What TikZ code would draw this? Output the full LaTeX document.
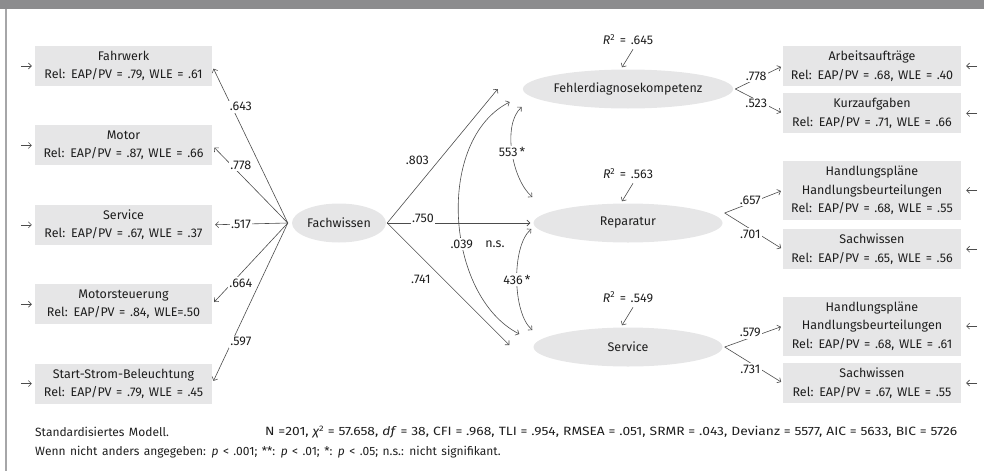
\documentclass[tikz,border=0pt]{standalone}
\usepackage{fontspec}
\setmainfont[WordSpace=1.4]{Fira Sans}
\newfontfamily\fitfont[FakeStretch=1.15, WordSpace=1.4]{Fira Sans}
\usetikzlibrary{calc}
\usetikzlibrary{shapes}
\usetikzlibrary{positioning}
\usetikzlibrary{arrows.meta}

\definecolor{boxgray}{HTML}{E6E6E7}
\definecolor{linegray}{HTML}{4C4C4C}
\definecolor{bargray}{HTML}{8C8C8E}
\definecolor{framegray}{HTML}{A6A6A8}
\definecolor{textgray}{HTML}{1E1E1E}

\begin{document}
\begin{tikzpicture}[x=1pt, y=-1pt, node distance=39pt,
        every node/.style={text=textgray, font=\fontsize{12.5}{18.5}\selectfont},
        indicator/.style={fill=boxgray, minimum width=177pt, minimum height=40pt, inner sep=0pt, align=center},
        latent/.style={ellipse, fill=boxgray, inner sep=0pt, minimum height=39pt, minimum width=189pt},
        coef/.style={fill=white, inner sep=1.5pt},
        effect/.style={draw=linegray, line width=0.6pt, -{Straight Barb[length=3pt,width=6pt]}},
        cov/.style={draw=linegray, line width=0.6pt, {Straight Barb[length=3pt,width=6pt]}-{Straight Barb[length=3pt,width=6pt]}},
        footer/.style={anchor=west, inner sep=0pt, font=\fontsize{12}{14}\selectfont}]
        \useasboundingbox (0,0) rectangle (984,471);
        \fill[bargray] (0,0) rectangle (984,9);
        \draw[framegray, line width=2pt] (6,9) -- (6,471);

        % indicators of Fachwissen
        \node[indicator] (fahrwerk) at (123.5,66) {Fahrwerk\\Rel: EAP/PV = .79, WLE = .61};
        \node[indicator, below=of fahrwerk] (motor) {Motor\\Rel: EAP/PV = .87, WLE = .66};
        \node[indicator, below=of motor] (service) {Service\\Rel: EAP/PV = .67, WLE = .37};
        \node[indicator, below=of service] (motorst) {Motorsteuerung\\Rel: EAP/PV = .84, WLE=.50};
        \node[indicator, below=of motorst] (ssb) {Start-Strom-Beleuchtung\\Rel: EAP/PV = .79, WLE = .45};

        \node[latent, minimum width=94pt] (fw) at (339,223) {Fachwissen};
        \coordinate[left=4pt of fw.west] (fw in);
        \coordinate[right=1pt of fw.east] (fw out);

        % latent outcomes
        \node[latent] (fd) at (628,89) {Fehlerdiagnosekompetenz};
        \node[latent] (rep) at (628,223) {Reparatur};
        \node[latent] (srv) at (628,347) {Service};

        \node (r2fd) at ($(fd.north)+(0,-30)$) {\textit{R}\textsuperscript{2} = .645};
        \node (r2rep) at ($(rep.north)+(0,-30)$) {\textit{R}\textsuperscript{2} = .563};
        \node (r2srv) at ($(srv.north)+(0,-30)$) {\textit{R}\textsuperscript{2} = .549};

        % indicators of the outcomes
        \node[indicator, minimum width=178pt] (arb) at (872,66) {Arbeitsaufträge\\Rel: EAP/PV = .68, WLE = .40};
        \node[indicator, minimum width=178pt, below=7pt of arb] (kurz) {Kurzaufgaben\\Rel: EAP/PV = .71, WLE = .66};
        \node[indicator, minimum width=178pt, minimum height=59pt, below=27pt of kurz] (hp1) {Handlungspläne\\Handlungsbeurteilungen\\Rel: EAP/PV = .68, WLE = .55};
        \node[indicator, minimum width=178pt, below=9pt of hp1] (sw1) {Sachwissen\\Rel: EAP/PV = .65, WLE = .56};
        \node[indicator, minimum width=178pt, minimum height=59pt, below=27pt of sw1] (hp2) {Handlungspläne\\Handlungsbeurteilungen\\Rel: EAP/PV = .68, WLE = .61};
        \node[indicator, minimum width=178pt, below=7pt of hp2] (sw2) {Sachwissen\\Rel: EAP/PV = .67, WLE = .55};

        \coordinate (fd tip) at ($(fd.west)+(-25,0)$);
        \coordinate (rep tip) at ($(rep.west)+(-3,0)$);
        \coordinate (srv tip) at ($(srv.west)+(-24,-2)$);
        \coordinate (fd out) at ($(fd.east)+(2,0)$);
        \coordinate (rep out) at ($(rep.east)+(2,-10)$);
        \coordinate (srv out) at ($(srv.east)+(2,0)$);

        % residual arrows
        \foreach \n in {fahrwerk,motor,service,motorst,ssb} {
            \coordinate[left=14pt of \n.west] (\n-err);
            \draw[effect, shorten >=3pt] (\n-err) -- (\n);
        }
        \foreach \n in {arb,kurz,hp1,sw1,hp2,sw2} {
            \coordinate[right=16pt of \n.east] (\n-err);
            \draw[effect, shorten >=5pt] (\n-err) -- (\n);
        }
        \draw[effect] ($(r2fd.center)+(5,10)$) -- ($(fd.north)+(-6,-2)$);
        \draw[effect] ($(r2rep.center)+(5,10)$) -- ($(rep.north)+(-6,-2)$);
        \draw[effect] ($(r2srv.center)+(5,10)$) -- ($(srv.north)+(-6,-2)$);

        % loadings of Fachwissen
        \draw[effect, shorten >=3pt] (fw in) -- node[coef, pos=.74, xshift=9pt] {.643} (fahrwerk.east);
        \draw[effect, shorten >=3pt] (fw in) -- node[coef, pos=.74, xshift=9pt] {.778} (motor.east);
        \draw[effect, shorten >=3pt] (fw in) -- node[coef, pos=.62] {.517} (service.east);
        \draw[effect, shorten >=3pt] (fw in) -- node[coef, pos=.74, xshift=9pt] {.664} (motorst.east);
        \draw[effect, shorten >=3pt] (fw in) -- node[coef, pos=.74, xshift=9pt] {.597} (ssb.east);

        % structural paths
        \draw[effect] (fw out) -- node[pos=.41, above left=0pt] {.803} (fd tip);
        \draw[effect] (fw out) -- node[coef, pos=.25, yshift=5pt] {.750} (rep tip);
        \draw[effect] (fw out) -- node[pos=.39, below left=1pt] {.741} (srv tip);

        % residual covariances
        \draw[cov] ($(fd.west)+(-13,13)$) .. controls +(-75,38) and +(-74,-38) .. ($(srv.west)+(-14,-13)$)
            node[coef, pos=.59] (c039) {.039};
        \node[right=7pt of c039] (ns) {n.s.};
        \draw[cov] ($(fd.west)+(-1,18)$) .. controls +(-20,18) and +(-20,-17) .. ($(rep.west)+(-1,-26)$)
            node[coef, pos=.5] (c553) {553\,*};
        \draw[cov] ($(rep.west)+(-2,6)$) .. controls +(-20,17) and +(-20,-17) .. ($(srv.west)+(-1,-17)$)
            node[coef, pos=.5] (c436) {436\,*};

        % loadings of the outcomes
        \draw[effect, shorten >=2pt] (fd out) -- node[coef, pos=.44, yshift=3pt] {.778} (arb.west);
        \draw[effect, shorten >=2pt] (fd out) -- node[coef, pos=.44, yshift=-4pt] {.523} (kurz.west);
        \draw[effect, shorten >=2pt] (rep out) -- node[coef, pos=.44, yshift=3pt] {.657} (hp1.west);
        \draw[effect, shorten >=2pt] (rep out) -- node[coef, pos=.44, yshift=-5pt] {.701} (sw1.west);
        \draw[effect, shorten >=2pt] (srv out) -- node[coef, pos=.44, yshift=5pt] {.579} (hp2.west);
        \draw[effect, shorten >=2pt] (srv out) -- node[coef, pos=.44, yshift=-6pt] {.731} (sw2.west);

        % notes
        \node[footer] (model) at (35,432) {Standardisiertes Modell.};
        \node[footer] (fit) at (265,432) {\fitfont\makebox[692pt][s]{N =201, {\itshape χ}\textsuperscript{2} = 57.658, \textit{df} = 38, CFI = .968, TLI = .954, RMSEA = .051, SRMR = .043, Devianz = 5577, AIC = 5633, BIC = 5726}};
        \node[footer] (legend) at (35,452) {Wenn nicht anders angegeben: \textit{p} < .001; **: \textit{p} < .01; *: \textit{p} < .05; n.s.: nicht signifikant.};
\end{tikzpicture}
\end{document}
